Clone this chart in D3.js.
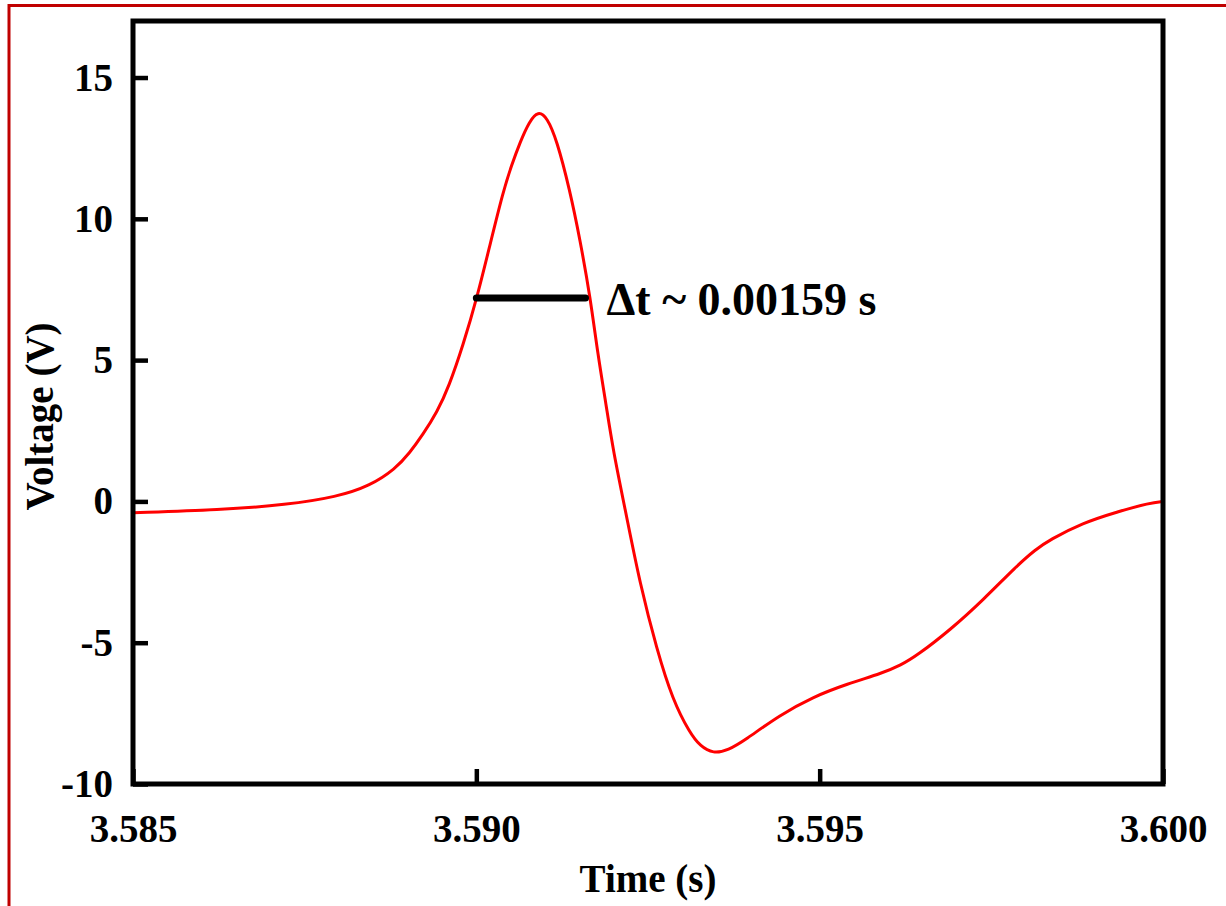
<!DOCTYPE html>
<html><head><meta charset="utf-8">
<script src="https://cdn.jsdelivr.net/npm/d3@7"></script>
<style>
html,body{margin:0;padding:0;background:#fff;}
text{font-family:"Liberation Serif","Times New Roman",serif;font-weight:bold;fill:#000;}
</style></head>
<body>
<svg id="chart" width="1226" height="906"></svg>
<script>
const timeValues = [3.58500,3.58627,3.58724,3.58797,3.58845,3.58882,3.58903,3.58922,3.58943,3.58960,3.58981,3.59001,3.59020,3.59039,3.59051,3.59064,3.59077,3.59090,3.59103,3.59117,3.59136,3.59151,3.59166,3.59177,3.59189,3.59199,3.59219,3.59238,3.59263,3.59286,3.59311,3.59326,3.59345,3.59367,3.59391,3.59442,3.59490,3.59540,3.59592,3.59618,3.59642,3.59690,3.59738,3.59787,3.59814,3.59835,3.59883,3.59933,3.59981,3.60000];
const voltageValues = [-0.40,-0.30,-0.12,0.16,0.55,1.15,1.72,2.36,3.17,4.06,5.55,7.21,9.09,10.96,11.88,12.73,13.44,13.82,13.59,12.80,11.03,9.26,7.21,5.19,3.42,1.83,-0.55,-2.88,-5.26,-7.03,-8.20,-8.66,-8.93,-8.80,-8.45,-7.56,-6.92,-6.46,-6.07,-5.80,-5.45,-4.55,-3.49,-2.28,-1.71,-1.36,-0.76,-0.37,-0.05,0.0];
const xTicks = [3.585,3.590,3.595,3.600];
const xTickLabels = ["3.585","3.590","3.595","3.600"];
const yTicks = [-10,-5,0,5,10,15];
const yTickLabels = ["-10","-5","0","5","10","15"];
const xDomain = [3.585,3.600];
const yDomain = [-10,17];
const deltaStart = 3.5900, deltaWidth = 0.00159, deltaLevel = 7.2;
const deltaLabel = "Δt ~ 0.00159 s";
const xTitle = "Time (s)", yTitle = "Voltage (V)";

const svg = d3.select("#chart");
const L=133, R=1163, T=21, B=784;
const x = d3.scaleLinear().domain(xDomain).range([L,R]);
const y = d3.scaleLinear().domain(yDomain).range([B,T]);

// outer dark red frame
svg.append("line").attr("x1",9).attr("x2",1226).attr("y1",5.5).attr("y2",5.5).attr("stroke","#c00000").attr("stroke-width",3);
svg.append("line").attr("x1",9).attr("x2",9).attr("y1",4).attr("y2",906).attr("stroke","#c00000").attr("stroke-width",3);

const data = timeValues.map((t,i)=>({t,v:voltageValues[i]}));
svg.append("path").datum(data)
  .attr("fill","none").attr("stroke","#ff0000").attr("stroke-width",3)
  .attr("d", d3.line().x(d=>x(d.t)).y(d=>y(d.v)).curve(d3.curveBasis));

// axes
const xAxis = d3.axisBottom(x).tickValues(xTicks).tickSize(-15).tickPadding(30).tickFormat((d,i)=>xTickLabels[i]);
const gx = svg.append("g").attr("transform",`translate(0,${B})`).call(xAxis);
const yAxis = d3.axisLeft(y).tickValues(yTicks).tickSize(-15).tickPadding(20).tickFormat((d,i)=>yTickLabels[i]);
const gy = svg.append("g").attr("transform",`translate(${L},0)`).call(yAxis);
[gx,gy].forEach(g=>{
  g.select(".domain").remove();
  g.selectAll(".tick line").attr("stroke","#000").attr("stroke-width",4.5);
  g.selectAll(".tick text").style("font-size","39px").attr("font-family",null);
});
gx.selectAll(".tick text").attr("dy","0.71em");
// frame
svg.append("rect").attr("x",L).attr("y",T).attr("width",R-L).attr("height",B-T)
  .attr("fill","none").attr("stroke","#000").attr("stroke-width",5);

// annotation
svg.append("line").attr("x1",x(deltaStart)).attr("x2",x(deltaStart+deltaWidth))
  .attr("y1",y(deltaLevel)).attr("y2",y(deltaLevel))
  .attr("stroke","#000").attr("stroke-width",7).attr("stroke-linecap","round");
svg.append("text").attr("x",x(deltaStart+deltaWidth)+21).attr("y",y(deltaLevel)+17)
  .style("font-size","46px").text(deltaLabel);

svg.append("text").attr("x",(L+R)/2).attr("y",892).attr("text-anchor","middle").style("font-size","39px").text(xTitle);
svg.append("text").attr("transform",`translate(53,${(T+B)/2+14}) rotate(-90)`).attr("text-anchor","middle").style("font-size","39px").text(yTitle);
</script>
</body></html>
